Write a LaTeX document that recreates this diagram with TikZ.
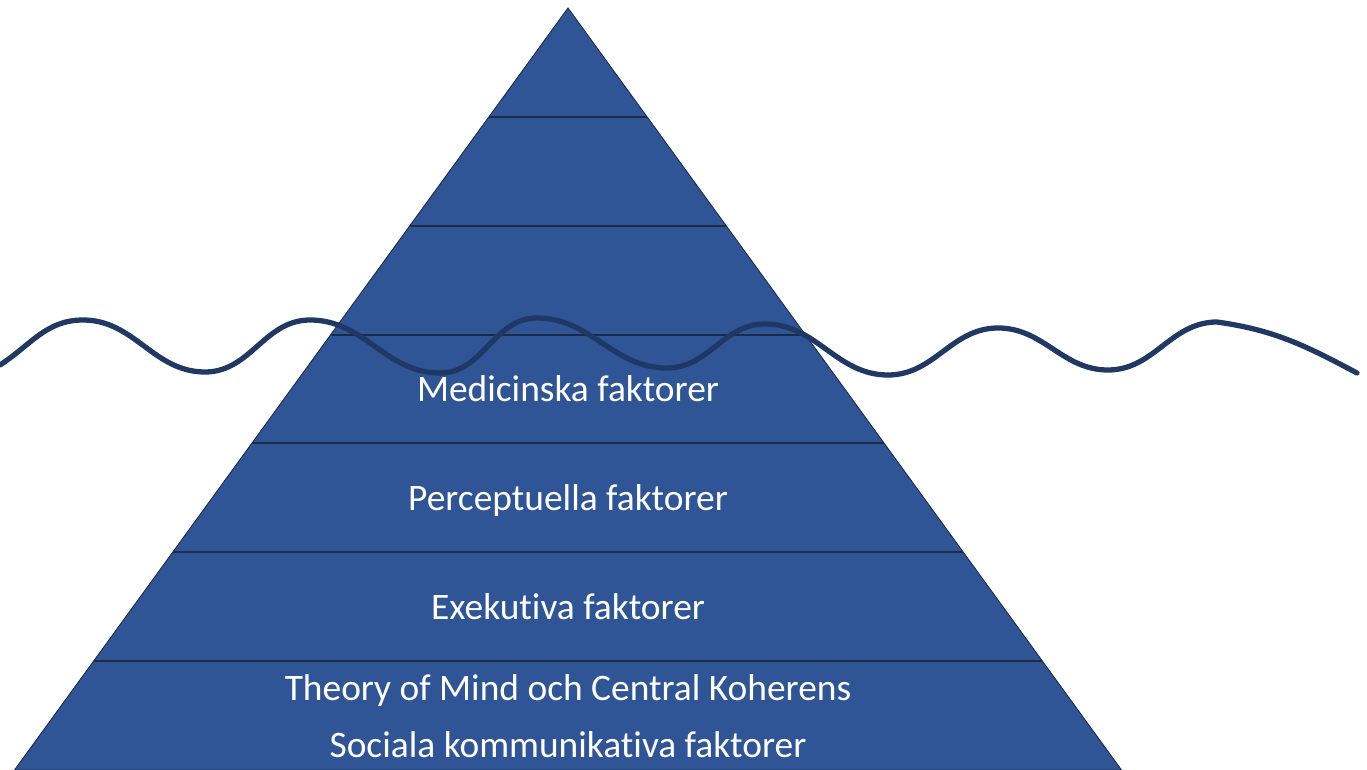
\documentclass[tikz,border=0pt]{standalone}
\usepackage{fontspec}
\setmainfont{Carlito}[Ligatures=NoCommon]
\usetikzlibrary{calc}
\definecolor{pyrblue}{HTML}{2F5597}
\definecolor{wavblue}{HTML}{203864}
\definecolor{lineblue}{HTML}{1C2A48}
\begin{document}
\begin{tikzpicture}[x=0.02cm,y=-0.02cm,
  levelline/.style={draw=lineblue,line width=1.1pt},
  label/.style={anchor=base,text=white,font=\fontsize{21.3}{25}\selectfont,inner sep=0pt},
  wave/.style={draw=wavblue,line width=3pt,line cap=round}]

\useasboundingbox (0,0) rectangle (1367,770);

\coordinate (apex) at (568,8);
\coordinate (bl) at (14.5,770);
\coordinate (br) at (1121.5,770);

\filldraw[fill=pyrblue,draw=lineblue,line width=0.5pt] (apex) -- (bl) -- (br) -- cycle;

\foreach \k in {1,...,6}
{
\draw[levelline] ($(apex)!\k/7!(bl)$) -- ($(apex)!\k/7!(br)$);
}

% waterline
\coordinate (w0) at (0,365);
\draw[wave] (w0)
  to[out=33,in=180] (83,320)
  to[out=0,in=180] (205,372)
  to[out=0,in=180] (310,320)
  to[out=0,in=180] (440,373)
  to[out=0,in=180] (537,318)
  to[out=0,in=180] (667,368)
  to[out=0,in=180] (765,324)
  to[out=0,in=180] (888,375)
  to[out=0,in=180] (998,328)
  to[out=0,in=180] (1108,370)
  to[out=0,in=180] (1217,322)
  to[out=-8,in=152] (1357,373);

\node[label] (med) at (568,401) {Medicinska faktorer};
\node[label] (perc) at (568,510) {Perceptuella faktorer};
\node[label] (exe) at (568,619) {Exekutiva faktorer};
\node[label] (tom) at (568,700) {Theory of Mind och Central Koherens};
\node[label] (soc) at (568,757) {Sociala kommunikativa faktorer};

\end{tikzpicture}
\end{document}
